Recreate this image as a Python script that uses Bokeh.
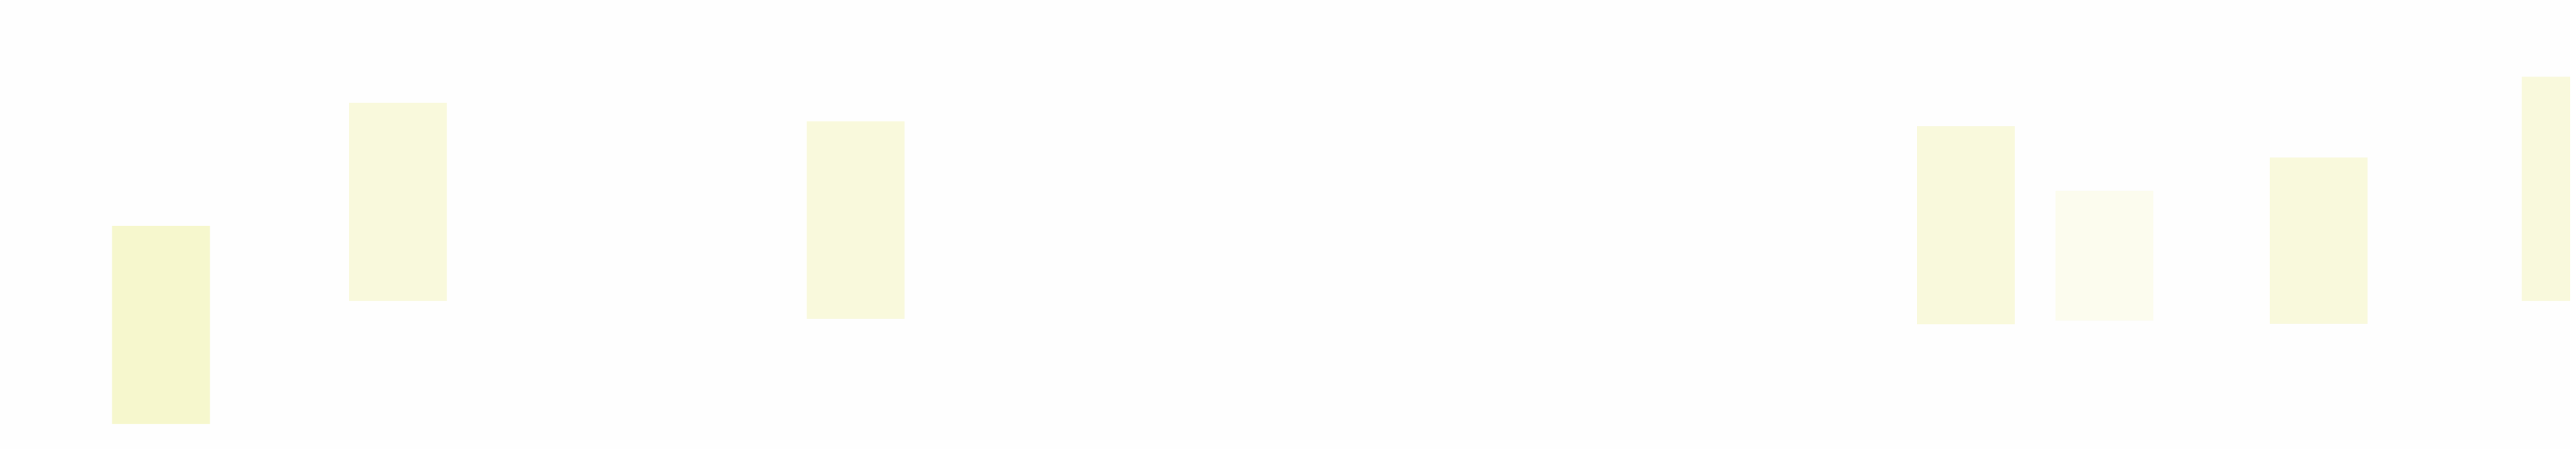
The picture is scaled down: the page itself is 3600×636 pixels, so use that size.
from bokeh.plotting import figure
from bokeh.models import Range1d, ColumnDataSource
from bokeh.embed import file_html
from bokeh.resources import INLINE

# data
positions = [2.25, 5.57, 11.98, 27.53, 29.47, 32.47, 36.0]
lows = [5.7, 33.1, 29.1, 27.9, 28.7, 28.0, 33.1]
highs = [49.8, 77.2, 73.1, 72.0, 57.6, 65.0, 83.0]

# styles
palette = ["#F6F7CD", "#F9F9DC", "#F9F9DC", "#F9F9DC", "#FCFCEE", "#F9F9DC", "#F9F9DC"]
BAR_WIDTH = 1.37

src = ColumnDataSource(dict(x=positions, bottom=lows, top=highs, color=palette))

p = figure(width=3592, height=628, output_backend="svg", toolbar_location=None,
           x_range=Range1d(0, 36), y_range=Range1d(0, 100), min_border=0)
p.vbar(x="x", width=BAR_WIDTH, bottom="bottom", top="top", source=src,
       fill_color="color", line_color=None)
p.axis.visible = False
p.grid.visible = False
p.outline_line_color = None
p.background_fill_color = "#FEFEFE"
p.border_fill_color = "#FEFEFE"

open("out.html", "w").write(file_html(p, INLINE))
